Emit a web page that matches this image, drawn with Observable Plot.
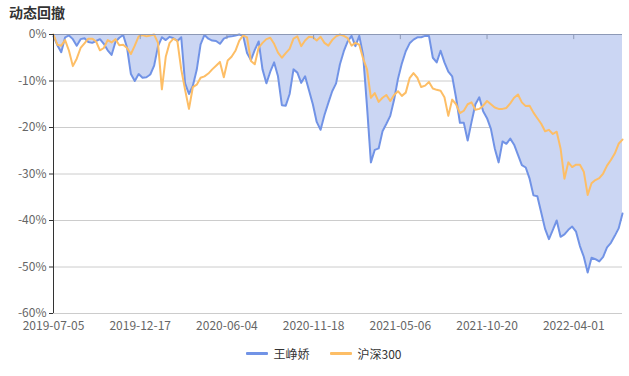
<!DOCTYPE html>
<html><head><meta charset="utf-8">
<script src="https://cdn.jsdelivr.net/npm/d3@7"></script>
<script src="https://cdn.jsdelivr.net/npm/@observablehq/plot@0.6"></script>
<style>
body{margin:0;background:#fff;font-family:"Microsoft YaHei","Noto Sans CJK SC",sans-serif;}
#wrap{position:relative;width:629px;height:376px;overflow:hidden;}
#title{position:absolute;left:9px;top:2px;font-size:14px;font-weight:bold;color:#333;}
#chart{position:absolute;left:0;top:24px;}
#legend{position:absolute;left:0;top:345px;width:629px;box-sizing:border-box;padding-left:18px;display:flex;justify-content:center;align-items:center;font-size:12px;color:#333;}
.item{display:flex;align-items:center;margin:0 10px;}
.sw{width:22px;height:3px;border-radius:1px;margin-right:6px;}
</style></head>
<body><div id="wrap"><div id="title">动态回撤</div><div id="chart"></div><div id="legend"></div></div>
<script>
const seriesNames = ["王峥娇", "沪深300"];
const seriesColors = ["#7193e6", "#fdbe66"];
const STEP = 5; // trading days between samples
const wang = [
-0.4,-2.3,-3.8,-0.6,-0.2,-1.0,-2.4,-1.0,-0.8,-1.6,
-1.8,-1.4,-1.0,-2.0,-3.4,-4.4,-1.6,-0.7,-0.1,-2.8,
-8.5,-10.0,-8.5,-9.3,-9.2,-8.6,-6.7,-2.5,-0.6,-1.2,
-0.5,-0.8,-1.4,-0.6,-10.5,-12.8,-11.0,-7.6,-2.1,-0.1,
-0.9,-1.3,-1.4,-2.0,-0.9,-0.5,-0.4,-0.2,0,-0.3,
-4.0,-5.5,-3.3,-1.5,-7.5,-10.5,-8.0,-6.0,-9.0,-15.2,
-15.3,-12.8,-7.5,-8.2,-10.4,-9.0,-12.0,-15.0,-18.8,-20.5,
-17.3,-14.7,-12.2,-10.5,-6.4,-3.6,-1.5,-0.3,-2.5,-0.3,
-4.5,-15.5,-27.5,-24.8,-24.5,-20.8,-19.2,-17.5,-14.0,-9.5,
-6.2,-3.6,-1.9,-1.1,-0.6,-0.6,-0.3,-0.3,-5.0,-6.0,
-3.5,-6.0,-8.0,-9.0,-13.6,-19.0,-19.0,-22.8,-18.8,-15.0,
-13.5,-16.5,-18.0,-20.3,-24.5,-27.5,-23.0,-23.5,-22.4,-23.7,
-25.9,-28.1,-28.6,-31.0,-34.6,-34.8,-38.3,-41.8,-44.0,-42.0,
-40.0,-43.5,-43.0,-42.0,-41.3,-42.4,-45.5,-47.8,-51.2,-48.0,
-48.3,-48.8,-47.8,-45.8,-44.8,-43.3,-41.7,-38.5
];
const hs300 = [
0,-2.2,-2.4,-1.2,-3.5,-6.8,-5.2,-2.9,-1.9,-0.9,
-0.9,-1.5,-3.4,-2.9,-1.2,-1.7,-1.0,-2.3,-2.2,-2.9,
-4.2,-2.4,-0.4,-0.1,-0.4,-0.2,0,-1.8,-11.8,-4.8,
-1.8,-0.9,-1.4,-7.5,-11.9,-16.0,-11.3,-10.8,-9.3,-9.0,
-8.4,-7.5,-6.7,-5.9,-9.2,-5.6,-4.8,-3.5,-1.3,-0.2,
-0.6,-5.7,-6.4,-2.8,-1.8,-1.0,-0.7,-2.0,-3.9,-5.0,
-4.0,-3.1,-0.9,-0.4,-2.5,-1.3,-0.5,-0.6,-1.3,-0.5,
-1.8,-2.4,-1.2,-0.4,0,-0.3,-0.8,-2.4,-1.8,-2.2,
-5.2,-7.5,-13.6,-12.6,-14.5,-13.6,-13.0,-14.3,-13.0,-12.2,
-13.2,-12.5,-9.4,-8.3,-9.3,-11.3,-11.0,-10.2,-11.6,-11.9,
-12.1,-13.5,-17.5,-14.0,-15.0,-16.9,-16.4,-15.0,-14.6,-16.2,
-16.0,-15.3,-14.3,-15.0,-15.7,-16.0,-16.0,-15.8,-14.8,-13.6,
-12.9,-14.6,-15.4,-15.3,-16.8,-18.0,-19.2,-20.8,-20.5,-21.4,
-20.9,-24.5,-31.0,-27.5,-28.5,-28.0,-28.0,-29.5,-34.5,-32.0,
-31.3,-30.9,-29.9,-28.2,-27.0,-25.6,-23.5,-22.6
];
const tickLabels = ["2019-07-05","2019-12-17","2020-06-04","2020-11-18","2021-05-06","2021-10-20","2022-04-01"];
const tickDays = [0,112,224,336,448,560,672];
const yTicks = [0,-10,-20,-30,-40,-50,-60];

const data = wang.map((v, i) => ({day: i * STEP, wang: v, hs300: hs300[i]}));
const lastDay = (wang.length - 1) * STEP;

const chart = Plot.plot({
  width: 629,
  height: 312,
  marginTop: 10,
  marginBottom: 23,
  marginLeft: 53,
  marginRight: 7,
  style: {fontFamily: '"Microsoft YaHei","Noto Sans CJK SC",sans-serif', fontSize: "12px", background: "#fff"},
  x: {domain: [0, lastDay]},
  y: {domain: [-60, 0]},
  marks: [
    Plot.ruleY(yTicks.filter(d => d < 0), {stroke: "#cccccc", strokeWidth: 1}),
    Plot.areaY(data, {x: "day", y1: 0, y2: "wang", fill: "#cbd6f3", curve: "linear"}),
    Plot.lineY(data, {x: "day", y: "wang", stroke: seriesColors[0], strokeWidth: 2}),
    Plot.lineY(data, {x: "day", y: "hs300", stroke: seriesColors[1], strokeWidth: 2}),
    Plot.ruleY([0], {stroke: "#8d99b6", strokeWidth: 1}),
    Plot.ruleX(tickDays.slice(1), {y1: 0, y2: -1.1, stroke: "#8d99b6"}),
    Plot.ruleX([0], {y1: -60, y2: 0, stroke: "#333", strokeWidth: 1}),
    Plot.axisY({ticks: yTicks, tickFormat: d => d + "%", tickSize: 4, tickPadding: 3, stroke: "#333", fill: "#666", label: null}),
    Plot.axisX({ticks: tickDays, tickFormat: d => tickLabels[tickDays.indexOf(d)], tickSize: 0, tickPadding: 8, fill: "#666", label: null})
  ]
});
document.getElementById("chart").appendChild(chart);

const legend = document.getElementById("legend");
seriesNames.forEach((n, i) => {
  const it = document.createElement("div"); it.className = "item";
  const sw = document.createElement("div"); sw.className = "sw"; sw.style.background = seriesColors[i];
  const tx = document.createElement("span"); tx.textContent = n;
  it.appendChild(sw); it.appendChild(tx); legend.appendChild(it);
});
</script></body></html>
